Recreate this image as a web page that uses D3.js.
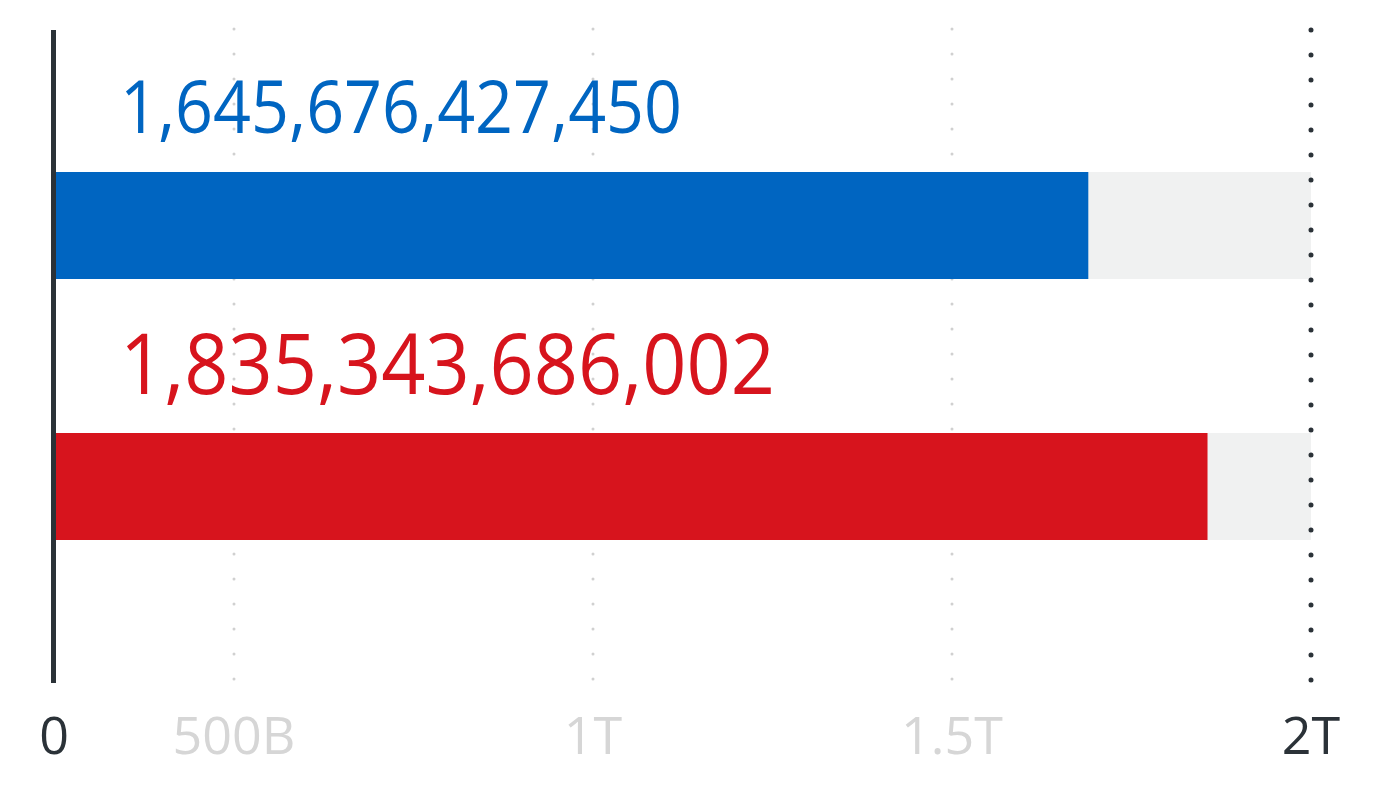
<!DOCTYPE html>
<html>
<head>
<meta charset="utf-8">
<script src="https://cdn.jsdelivr.net/npm/d3@7"></script>
<style>
  body { margin: 0; background: #fff; }
  text { font-family: "Open Sans", sans-serif; }
</style>
</head>
<body>
<script>
// data
const names = ['blue', 'red']
const values = [1645676427450, 1835343686002]
const colors = ['#0065c1', '#d7141d']
const gridTicks = [500e9, 1e12, 1.5e12]
const gridLabels = ['500B', '1T', '1.5T']
const endTicks = [0, 2e12]
const endLabels = ['0', '2T']

const frame = {
  width: 1394,
  height: 800,
  left: 54,
  right: 1311,
  top: 30,
  bottom: 683,
  barHeight: 107
}

const svg = d3.select('body').append('svg')
  .attr('width', frame.width)
  .attr('height', frame.height)

const x = d3.scaleLinear().domain([0, 2e12]).range([frame.left, frame.right])
// the middle gridlines sit on their own spacing in the original
const gx = d3.scaleLinear().domain([0, 2e12]).range([-125, frame.right])
const y = d3.scaleBand().domain(names).range([18, 540])

// gray dotted gridlines
svg.selectAll('.grid')
  .data(gridTicks)
  .enter().append('line')
  .attr('x1', d => gx(d)).attr('x2', d => gx(d))
  .attr('y1', frame.top - 1).attr('y2', frame.bottom + 2)
  .attr('stroke', '#d0d0d0')
  .attr('stroke-width', 3)
  .attr('stroke-linecap', 'round')
  .attr('stroke-dasharray', '0 25')

// track behind bars
svg.selectAll('.track')
  .data(names)
  .enter().append('rect')
  .attr('x', x(0))
  .attr('y', d => y(d) + y.bandwidth() - frame.barHeight)
  .attr('width', x(2e12) - x(0))
  .attr('height', frame.barHeight)
  .attr('fill', '#f0f1f1')

// bars
svg.selectAll('.bar')
  .data(values)
  .enter().append('rect')
  .attr('x', x(0))
  .attr('y', (d, i) => y(names[i]) + y.bandwidth() - frame.barHeight)
  .attr('width', d => x(d) - x(0))
  .attr('height', frame.barHeight)
  .attr('fill', (d, i) => colors[i])

// value labels
const fmt = d3.format(',.0f')
const labelSize = [73, 84]
const labelWidth = [562, 655]
svg.selectAll('.val')
  .data(values)
  .enter().append('text')
  .attr('x', 120)
  .attr('y', (d, i) => y(names[i]) + y.bandwidth() - frame.barHeight - 39)
  .attr('font-size', (d, i) => labelSize[i])
  .attr('textLength', (d, i) => labelWidth[i])
  .attr('lengthAdjust', 'spacingAndGlyphs')
  .attr('fill', (d, i) => colors[i])
  .text(d => fmt(d))

// right dotted line at the max
svg.append('line')
  .attr('x1', x(2e12)).attr('x2', x(2e12))
  .attr('y1', frame.top).attr('y2', frame.bottom)
  .attr('stroke', '#2b3238')
  .attr('stroke-width', 5)
  .attr('stroke-linecap', 'round')
  .attr('stroke-dasharray', '0 25')

// zero axis line
svg.append('line')
  .attr('x1', 53.5).attr('x2', 53.5)
  .attr('y1', frame.top).attr('y2', frame.bottom)
  .attr('stroke', '#2b3238')
  .attr('stroke-width', 5)

// tick labels
svg.selectAll('.glabel')
  .data(gridTicks)
  .enter().append('text')
  .attr('x', d => gx(d))
  .attr('y', 754)
  .attr('text-anchor', 'middle')
  .attr('font-size', 52)
  .attr('fill', '#d6d6d6')
  .text((d, i) => gridLabels[i])

svg.selectAll('.elabel')
  .data(endTicks)
  .enter().append('text')
  .attr('x', (d, i) => i == 0 ? 54 : x(d))
  .attr('y', 754)
  .attr('text-anchor', 'middle')
  .attr('font-size', 52)
  .attr('fill', '#2b3238')
  .text((d, i) => endLabels[i])
</script>
</body>
</html>
